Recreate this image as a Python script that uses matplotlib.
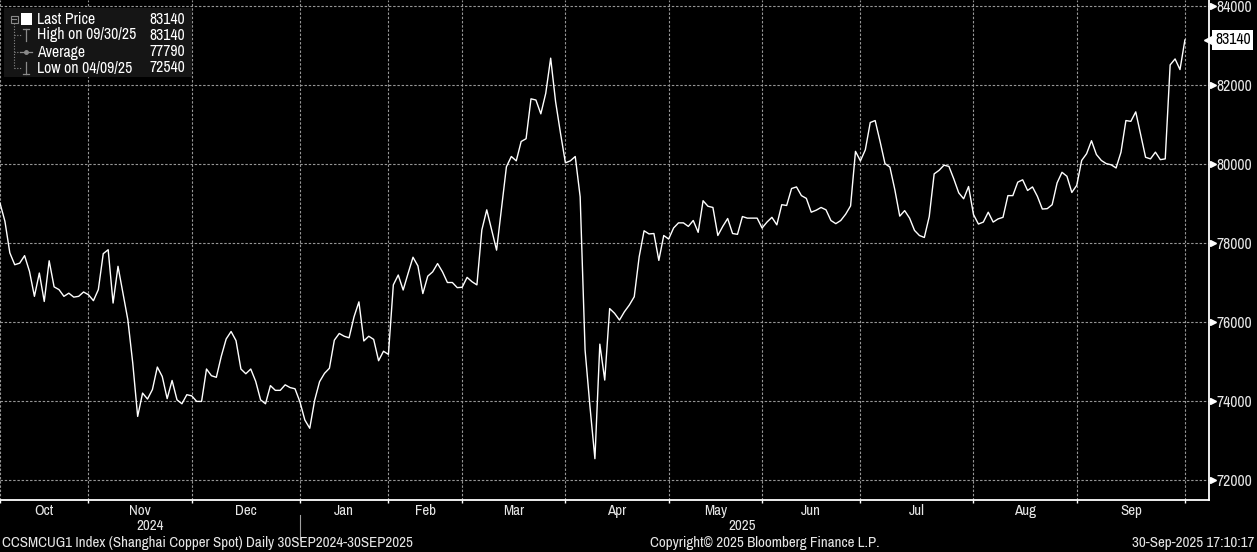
import numpy as np
import matplotlib
matplotlib.use("Agg")
import matplotlib.pyplot as plt
import matplotlib.transforms as mtransforms
from matplotlib import font_manager as fm

# --- data (trading-day index, CCSMCUG1 close) ---
price = [
    79010, 78550, 77750, 77450, 77490, 77680, 77280, 76650, 77240, 76520,
    77550, 76890, 76820, 76650, 76730, 76630, 76650, 76760, 76690, 76540,
    76820, 77730, 77830, 76480, 77410, 76730, 76060, 74960, 73610, 74200,
    74050, 74290, 74860, 74620, 74060, 74520, 74030, 73930, 74160, 74130,
    73990, 73990, 74810, 74640, 74600, 75130, 75570, 75760, 75530, 74810,
    74690, 74810, 74500, 74030, 73930, 74390, 74270, 74270, 74410, 74340,
    74310, 73980, 73520, 73310, 74020, 74490, 74700, 74830, 75540, 75710,
    75640, 75600, 76130, 76510, 75520, 75640, 75560, 75020, 75260, 75180,
    76940, 77190, 76810, 77230, 77640, 77420, 76720, 77160, 77270, 77480,
    77270, 77000, 77000, 76870, 76880, 77130, 77020, 76940, 78330, 78840,
    78330, 77820, 78880, 79930, 80190, 80080, 80570, 80640, 81650, 81620,
    81270, 81790, 82680, 81580, 80780, 80030, 80080, 80190, 79170, 75290,
    73850, 72540, 75440, 74530, 76340, 76220, 76050, 76260, 76430, 76640,
    77650, 78310, 78230, 78240, 77560, 78190, 78100, 78380, 78510, 78510,
    78420, 78570, 78270, 79070, 78930, 78900, 78190, 78420, 78620, 78240,
    78220, 78670, 78630, 78630, 78630, 78380, 78530, 78650, 78460, 78970,
    78950, 79380, 79420, 79200, 79130, 78780, 78830, 78900, 78840, 78570,
    78490, 78570, 78730, 78940, 80320, 80080, 80360, 81050, 81100, 80570,
    80010, 79920, 79350, 78680, 78820, 78630, 78320, 78190, 78140, 78670,
    79750, 79840, 79970, 79940, 79620, 79270, 79120, 79430, 78720, 78480,
    78530, 78780, 78530, 78610, 78650, 79200, 79200, 79540, 79600, 79330,
    79420, 79180, 78860, 78870, 78970, 79520, 79790, 79690, 79280, 79460,
    80090, 80260, 80590, 80240, 80090, 80010, 79980, 79900, 80300, 81100,
    81080, 81320, 80740, 80170, 80130, 80300, 80110, 80130, 82510, 82660,
    82390, 83140,
]
month_start = [0, 18, 39, 61, 79, 94, 115, 136, 155, 175, 198, 219, 241]
month_names = ["Oct", "Nov", "Dec", "Jan", "Feb", "Mar", "Apr", "May",
               "Jun", "Jul", "Aug", "Sep"]
years = ["2024", "2025"]
year_start = [0, 61, 241]
y_ticks = [72000, 74000, 76000, 78000, 80000, 82000, 84000]

legend_labels = ["Last Price", "High on 09/30/25", "Average", "Low on 04/09/25"]
legend_values = ["83140", "83140", "77790", "72540"]

footer_left = "CCSMCUG1 Index (Shanghai Copper Spot) Daily 30SEP2024-30SEP2025"
footer_mid = "Copyright\u00a9 2025 Bloomberg Finance L.P."
footer_right = "30-Sep-2025 17:10:17"

# font: something narrow like the terminal font, else Arial-metric Liberation
names = {f.name for f in fm.fontManager.ttflist}
narrow = sorted(n for n in names if "Narrow" in n or "Condensed" in n)
if "Liberation Sans Narrow" in names:
    FONT, FS = "Liberation Sans Narrow", 10.5
elif narrow:
    FONT, FS = narrow[0], 10.8
elif "Liberation Sans" in names:
    FONT, FS = "Liberation Sans", 9.0
else:
    FONT, FS = "DejaVu Sans", 8.2
plt.rcParams["font.family"] = [FONT, "DejaVu Sans"]

W, H = 1257, 552
fig = plt.figure(figsize=(W / 100, H / 100), dpi=100, facecolor="black")
ax = fig.add_axes([0, 52 / H, 1209 / W, 500 / H], facecolor="black")

x = np.arange(len(price))
ax.plot(x, price, color="white", lw=1.0, zorder=3)

ax.set_xlim(0, 245.9)
ax.set_ylim(71494, 84152)

grid_kw = dict(color="#969696", lw=0.8, ls=(0, (2.2, 1.6)), zorder=1)
for v in y_ticks:
    ax.axhline(v, **grid_kw)
for m in month_start:
    ax.axvline(m, **grid_kw)

for s in ("top", "left"):
    ax.spines[s].set_visible(False)
for s in ("bottom", "right"):
    ax.spines[s].set_color("white")
    ax.spines[s].set_linewidth(1.3)

# right axis labels with little arrow heads
ax.yaxis.tick_right()
ax.set_yticks(y_ticks)
ax.set_yticklabels([f"{v}" for v in y_ticks])
ax.tick_params(axis="y", length=0, pad=5.5, labelsize=FS + 0.5,
               labelcolor="#e6e6e6")
ytr = mtransforms.blended_transform_factory(ax.transAxes, ax.transData)
tri_tr = mtransforms.offset_copy(ytr, fig=fig, x=3.5, y=0, units="dots")
ax.plot([1.0] * len(y_ticks), y_ticks, ls="none", marker=">", ms=4.5,
        color="white", transform=tri_tr, clip_on=False)

# last price tag
last = price[-1]
ax.annotate(f"{last}", xy=(1.0, last), xycoords=ytr, xytext=(6, 0),
            textcoords="offset pixels", ha="left", va="center", color="black",
            fontsize=FS + 0.5, annotation_clip=False,
            bbox=dict(boxstyle="square,pad=0.18", fc="white", ec="none"))
ax.plot([1.0], [last], marker="<", ms=7, color="white", transform=ytr,
        clip_on=False)

# bottom axis: ticks at month starts, labels mid-month
ax.set_xticks(month_start)
ax.set_xticklabels([])
ax.tick_params(axis="x", which="major", length=2.5, width=1, color="white",
               direction="out")
mids = [(a + b) / 2 for a, b in zip(month_start[:-1], month_start[1:])]
ax.set_xticks(mids, minor=True)
ax.set_xticklabels(month_names, minor=True)
ax.tick_params(axis="x", which="minor", length=0, pad=3.0, labelsize=FS,
               labelcolor="#e6e6e6")

xtr = mtransforms.blended_transform_factory(ax.transData, ax.transAxes)
for yl, a, b in zip(years, year_start[:-1], year_start[1:]):
    ax.text((a + b) / 2, -0.053, yl, transform=xtr, ha="center", va="center",
            fontsize=FS, color="#e6e6e6")
ax.plot([year_start[1]] * 2, [-0.03, -0.08], color="#a0a0a0", lw=0.8,
        transform=xtr, clip_on=False)

# overlay in pixel units for legend and footer
ov = fig.add_axes([0, 0, 1, 1], facecolor="none")
ov.set_xlim(0, W)
ov.set_ylim(H, 0)
ov.axis("off")

ov.add_patch(plt.Rectangle((4, 8), 188, 69, fc="#151515", ec="none"))
rows = [19, 35, 52, 68]
gray = "#8a8a8a"
# tree
ov.add_patch(plt.Rectangle((10.5, 15.5), 7, 7, fc="none", ec=gray, lw=0.8))
ov.plot([12, 16], [19, 19], color=gray, lw=0.8)
ov.plot([14, 14], [23, rows[-1]], color=gray, lw=0.8, ls=(0, (1, 1.5)))
for r in rows[1:]:
    ov.plot([14, 21], [r, r], color=gray, lw=0.8, ls=(0, (1, 1.5)))
ov.add_patch(plt.Rectangle((21, 13), 11, 12, fc="white", ec="none"))
ov.plot([23, 29], [29, 29], color=gray, lw=0.9)
ov.plot([26, 26], [29, 41], color=gray, lw=0.9)
ov.plot([20, 32], [52, 52], color=gray, lw=0.9)
ov.plot([26], [52], marker="o", ms=2.5, color=gray)
ov.plot([26, 26], [62, 74], color=gray, lw=0.9)
ov.plot([23, 29], [74, 74], color=gray, lw=0.9)
for r, lab, val in zip(rows, legend_labels, legend_values):
    ov.text(37, r, lab, ha="left", va="center", fontsize=FS + 0.5,
            color="white")
    ov.text(185, r, val, ha="right", va="center", fontsize=FS + 0.5,
            color="white")

ov.text(2, 543, footer_left, ha="left", va="center", fontsize=FS,
        color="#e6e6e6")
ov.text(650, 543, footer_mid, ha="left", va="center", fontsize=FS,
        color="#e6e6e6")
ov.text(1254, 543, footer_right, ha="right", va="center", fontsize=FS,
        color="#e6e6e6")

fig.savefig("out.png", dpi=100, facecolor="black")
